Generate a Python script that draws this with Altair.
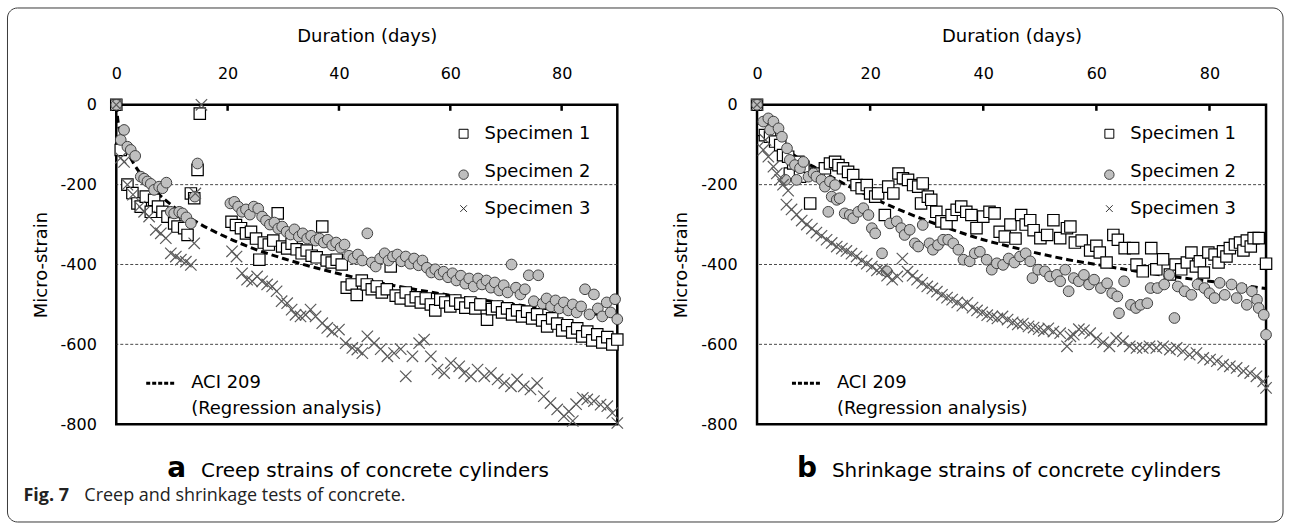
import altair as alt
import pandas as pd

# ---------------- axis / label arrays ----------------
X_LABELS = [0, 20, 40, 60, 80]
TOP_TICKS = [20, 40, 60, 80]
Y_LABELS = [0, -200, -400, -600, -800]
GRID_VALUES = [-200, -400, -600]
SERIES = ["Specimen 1", "Specimen 2", "Specimen 3"]
ACI_LABEL = ["ACI 209", "(Regression analysis)"]

# ---------------- panel a : creep ----------------
a_s1_day = [0, 0.8, 2.0, 2.9, 3.8, 4.4, 5.3, 6.2, 6.8, 7.5, 8.3, 9.2, 10.4, 11.0, 12.2, 12.8, 13.4, 14.0, 14.6, 15.0,
            20.7, 21.5, 22.4, 23.3, 24.2, 25.1, 25.7, 26.5, 27.4, 28.2, 29.0, 29.8, 30.7, 31.5, 32.4, 33.3, 34.2, 35.1,
            36.0, 37.0, 37.8, 38.7, 39.6, 40.5, 41.4, 42.3, 43.2, 44.1, 45.0, 45.9, 46.8, 47.7, 48.6, 49.3, 50.2, 51.1,
            52.0, 52.9, 53.8, 54.7, 55.6, 56.5, 57.3, 58.2, 59.1, 60.0, 60.9, 61.8, 62.7, 63.6, 64.5, 65.4, 66.6, 67.5,
            68.4, 69.3, 70.2, 71.1, 72.0, 72.9, 73.8, 74.7, 75.6, 76.5, 77.4, 78.3, 79.2, 80.1, 81.0, 81.9, 82.8, 83.7,
            84.6, 85.5, 86.4, 87.3, 88.2, 89.1, 90.0]
a_s1_val = [0, -113, -200, -221, -247, -255, -230, -268, -238, -255, -268, -280, -297, -305, -309, -326, -222, -234, -163, -22,
            -293, -301, -309, -322, -318, -335, -388, -345, -350, -340, -272, -355, -360, -348, -362, -372, -365, -378,
            -382, -305, -390, -395, -388, -400, -458, -450, -476, -440, -450, -462, -455, -470, -462, -405, -478, -485,
            -470, -490, -482, -495, -485, -500, -515, -488, -495, -505, -490, -498, -508, -495, -510, -500, -538, -512,
            -505, -520, -510, -525, -515, -530, -518, -535, -525, -540, -555, -535, -548, -565, -552, -570, -560, -580,
            -568, -590, -575, -595, -582, -600, -588]

a_s2_day = [0, 0.8, 1.4, 2.0, 2.6, 3.4, 4.4, 5.0, 5.6, 6.2, 6.8, 7.7, 8.3, 9.0, 9.8, 10.4, 11.3, 11.9, 12.6, 13.4, 14.1, 14.6,
            20.5, 21.2, 21.9, 22.6, 23.3, 24.0, 24.7, 25.5, 26.2, 26.9, 27.6, 28.4, 29.1, 29.8, 30.6, 31.3, 32.0, 32.8,
            33.5, 34.3, 35.0, 35.8, 36.5, 37.3, 38.0, 38.8, 39.5, 40.3, 41.0, 41.8, 42.6, 43.4, 44.2, 45.1, 45.9, 46.6,
            47.4, 48.2, 48.9, 49.7, 50.5, 51.2, 52.0, 52.8, 53.5, 54.3, 55.0, 55.8, 56.6, 57.3, 58.1, 58.8, 59.6, 60.4,
            61.1, 61.9, 62.7, 63.4, 64.2, 65.0, 65.7, 66.5, 67.3, 68.0, 68.8, 69.6, 70.3, 71.0, 71.8, 72.6, 73.4, 74.1,
            75.0, 75.8, 76.6, 77.3, 78.1, 78.9, 79.6, 80.4, 81.2, 82.0, 82.7, 83.5, 84.2, 85.0, 85.8, 86.5, 87.3, 88.1,
            88.8, 89.6, 90.0]
a_s2_val = [0, -88, -63, -105, -113, -128, -180, -185, -192, -198, -213, -205, -209, -195, -268, -272, -268, -272, -282, -297, -230, -147,
            -247, -243, -255, -268, -262, -275, -255, -260, -280, -290, -300, -295, -310, -305, -318, -325, -312, -330,
            -322, -335, -328, -340, -335, -345, -338, -352, -345, -358, -350, -378, -385, -375, -390, -322, -395, -405,
            -385, -372, -390, -380, -375, -392, -380, -398, -385, -402, -390, -408, -420, -412, -425, -418, -432, -422,
            -440, -428, -448, -435, -455, -435, -450, -440, -458, -445, -465, -452, -470, -400, -458, -475, -462, -427,
            -492, -427, -498, -485, -505, -490, -510, -495, -515, -500, -520, -505, -462, -525, -475, -510, -530, -495,
            -520, -487, -537]

a_s3_day = [0, 0.8, 1.4, 2.0, 3.0, 4.2, 5.0, 5.9, 7.1, 8.0, 8.9, 9.8, 10.7, 11.6, 12.5, 13.4, 14.0, 14.2, 15.3,
            20.8, 21.6, 22.6, 23.5, 24.4, 25.3, 26.2, 27.1, 28.0, 28.8, 29.7, 30.7, 31.5, 32.2, 33.1, 34.0, 34.9, 35.8,
            37.0, 37.9, 38.8, 40.0, 41.2, 42.4, 43.3, 44.2, 45.1, 46.3, 47.5, 48.7, 49.9, 51.1, 52.0, 53.2, 54.4, 55.3,
            56.5, 57.7, 58.9, 60.1, 61.6, 62.5, 63.7, 64.9, 66.1, 67.3, 68.5, 69.7, 70.9, 72.0, 73.2, 74.4, 75.6, 76.8,
            78.0, 79.2, 80.4, 81.3, 82.0, 82.6, 83.8, 84.6, 85.8, 87.0, 88.2, 89.1, 90.0]
a_s3_val = [0, -133, -143, -200, -225, -255, -268, -280, -313, -322, -334, -372, -380, -388, -393, -401, -347, -222, 0,
            -367, -380, -422, -438, -442, -430, -442, -450, -455, -467, -492, -497, -513, -526, -530, -526, -513, -530,
            -547, -559, -568, -563, -597, -609, -613, -622, -580, -597, -612, -630, -622, -612, -680, -630, -597, -588,
            -630, -663, -672, -647, -655, -672, -680, -663, -680, -672, -688, -697, -705, -688, -705, -713, -697, -730,
            -747, -763, -780, -768, -792, -750, -734, -738, -742, -751, -755, -772, -797]

a_aci_day = [0, 0.3, 1, 2, 3, 5, 7, 10, 14, 20, 25, 30, 40, 50, 60, 70, 80, 90]
a_aci_val = [0, -40, -80, -117, -144, -184, -215, -252, -290, -333, -362, -385, -423, -453, -477, -497, -515, -530]

# ---------------- panel b : shrinkage ----------------
b_s1_day = [0, 1.1, 1.4, 2.3, 3.2, 4.1, 4.6, 5.5, 5.8, 6.4, 7.3, 7.6, 8.2, 9.4, 10.5, 12.0, 12.9, 13.8, 14.4, 15.2,
            16.1, 17.0, 17.6, 18.5, 19.4, 20.0, 20.9, 21.4, 22.6, 23.2, 24.1, 25.0, 25.8, 26.7, 27.6, 28.5, 29.0, 29.3,
            30.2, 30.8, 31.7, 32.6, 33.5, 34.4, 35.3, 36.1, 37.0, 37.9, 38.8, 40.0, 41.1, 42.0, 42.9, 43.8, 44.8, 45.7,
            46.7, 47.5, 48.3, 48.9, 50.1, 51.3, 52.4, 53.6, 54.8, 55.4, 56.2, 57.4, 58.9, 60.0, 60.6, 61.8, 63.0, 63.8,
            65.0, 66.5, 67.1, 68.2, 69.7, 70.6, 71.8, 73.0, 74.0, 75.0, 76.0, 76.8, 77.6, 78.3, 79.0, 79.8, 80.9, 81.6,
            82.4, 83.0, 83.6, 84.5, 85.4, 86.0, 86.6, 87.3, 87.8, 88.7, 90.0]
b_s1_val = [0, -63, -76, -80, -92, -101, -126, -130, -172, -147, -143, -180, -155, -247, -172, -159, -147, -143, -151, -159,
            -168, -176, -201, -209, -201, -222, -230, -222, -276, -205, -222, -172, -184, -188, -201, -205, -247, -197,
            -230, -238, -268, -292, -297, -276, -263, -255, -268, -276, -309, -280, -268, -272, -318, -330, -300, -335,
            -276, -300, -289, -314, -334, -326, -289, -334, -309, -305, -345, -340, -365, -353, -370, -395, -326, -338,
            -359, -359, -400, -417, -359, -412, -387, -425, -400, -412, -395, -370, -405, -392, -420, -370, -375, -395,
            -367, -380, -359, -350, -345, -365, -340, -355, -334, -334, -398]

b_s2_day = [0, 1.1, 2.0, 2.3, 2.9, 3.8, 4.4, 5.0, 5.3, 5.8, 6.7, 7.0, 7.6, 8.2, 9.1, 10.0, 10.5, 11.4, 12.0, 12.6,
            12.9, 13.2, 13.8, 14.1, 14.6, 15.5, 16.4, 17.0, 17.9, 18.8, 19.7, 20.3, 20.9, 22.1, 22.9, 23.5, 24.7, 25.5,
            26.1, 27.0, 27.9, 28.5, 29.3, 30.5, 31.1, 32.0, 32.9, 33.8, 34.7, 35.6, 36.5, 37.6, 38.5, 39.4, 40.6, 41.5,
            42.4, 43.5, 44.5, 45.5, 46.5, 47.5, 48.3, 48.7, 49.7, 50.9, 51.8, 53.0, 53.6, 54.5, 55.1, 56.0, 56.9, 57.8,
            58.7, 59.6, 60.8, 61.9, 62.8, 63.7, 64.0, 64.9, 66.1, 67.0, 67.8, 69.0, 69.6, 70.8, 72.0, 72.9, 73.8, 74.4,
            75.6, 76.8, 77.9, 79.1, 80.0, 80.9, 81.8, 82.7, 83.9, 84.8, 85.7, 86.6, 87.5, 88.4, 88.7, 89.6, 90.0]
b_s2_val = [0, -42, -34, -63, -42, -59, -80, -188, -109, -138, -151, -188, -159, -143, -180, -172, -180, -188, -205, -268,
            -192, -230, -201, -238, -234, -272, -276, -284, -268, -259, -276, -309, -322, -372, -417, -297, -292, -309,
            -326, -313, -347, -355, -301, -347, -363, -351, -338, -338, -347, -363, -388, -392, -372, -368, -388, -413,
            -397, -401, -385, -395, -380, -372, -392, -434, -413, -417, -430, -426, -442, -413, -467, -434, -442, -426,
            -450, -438, -459, -447, -472, -480, -522, -442, -501, -509, -501, -497, -459, -459, -450, -426, -534, -455,
            -467, -476, -450, -459, -472, -484, -446, -476, -450, -484, -459, -501, -467, -488, -509, -526, -576]

b_s3_day = [0, 1.1, 1.5, 2.0, 2.9, 3.5, 4.1, 4.6, 5.2, 5.5, 6.1, 7.0, 7.9, 8.8, 9.7, 10.5, 11.4, 12.3, 13.2, 14.1,
            15.0, 15.8, 16.7, 17.6, 18.5, 19.4, 20.3, 21.2, 22.1, 23.0, 23.9, 24.8, 25.7, 26.6, 27.5, 28.3, 29.2, 30.1,
            31.0, 31.8, 32.7, 33.6, 34.5, 35.4, 36.3, 37.2, 38.1, 38.9, 39.8, 40.7, 41.6, 42.5, 43.4, 44.3, 45.2, 46.1,
            47.0, 48.0, 48.9, 49.8, 50.7, 51.5, 52.4, 53.6, 54.8, 55.4, 56.0, 56.9, 57.8, 58.9, 60.0, 61.2, 62.3, 63.5,
            64.7, 65.9, 67.1, 68.2, 69.4, 70.6, 71.8, 73.0, 74.2, 75.3, 76.5, 77.7, 78.9, 80.1, 81.3, 82.4, 83.6, 84.8,
            86.0, 87.2, 88.3, 89.5, 90.0]
b_s3_val = [0, -113, -88, -130, -155, -172, -188, -200, -250, -215, -262, -275, -290, -300, -310, -320, -328, -338, -346, -355,
            -360, -366, -373, -380, -390, -398, -405, -415, -412, -428, -438, -430, -385, -418, -428, -438, -446, -455,
            -460, -468, -476, -483, -488, -495, -503, -496, -508, -515, -520, -527, -530, -535, -530, -538, -545, -550,
            -548, -555, -558, -562, -566, -560, -568, -572, -605, -580, -576, -562, -565, -572, -585, -595, -605, -584,
            -592, -605, -609, -609, -605, -609, -605, -613, -609, -617, -626, -622, -634, -638, -642, -651, -655, -659,
            -667, -672, -680, -693, -709]

b_aci_day = [1.5, 3, 5, 8, 10, 15, 20, 25, 30, 35, 40, 45, 50, 55, 60, 65, 70, 75, 80, 85, 90]
b_aci_val = [-70, -88, -110, -140, -155, -195, -230, -262, -290, -315, -338, -356, -373, -388, -400, -412, -423, -433, -442, -451, -460]

# ---------------- styling ----------------
FONT = "DejaVu Sans"
XPATH = "M-1,-1L1,1M-1,1L1,-1"
PLOT_H = 320


def frame(days, vals):
    return pd.DataFrame({"day": days, "strain": vals})


def text_layer(text, x, y, size=18, weight="normal", font=FONT, baseline="middle", color="black"):
    return alt.Chart(pd.DataFrame({"t": [text]})).mark_text(
        align="left", baseline=baseline, fontSize=size, fontWeight=weight, font=font, color=color
    ).encode(text="t:N", x=alt.value(x), y=alt.value(y))


def make_panel(width, s1, s2, s3, aci, letter, caption, leg_sym_x, leg_txt_x, aci_x, letter_x, cap_x, extra=None):
    xs = alt.Scale(domain=[0, 90], nice=False, zero=False)
    ys = alt.Scale(domain=[-800, 0], nice=False)
    xax = alt.Axis(orient="top", values=X_LABELS, title="Duration (days)", ticks=False, tickSize=0,
                   domain=False, grid=False, labelFontSize=16, labelPadding=23, labelFlush=False,
                   titleFontSize=18, titlePadding=20, labelFont=FONT, titleFont=FONT,
                   titleFontWeight="normal", labelColor="black", titleColor="black")
    yax = alt.Axis(values=Y_LABELS, title="Micro-strain", ticks=False, tickSize=0, domain=False, grid=False,
                   labelFontSize=16, labelPadding=20, labelFlush=False, labelExpr="'' + datum.value",
                   titleFontSize=18, titlePadding=10, labelFont=FONT, titleFont=FONT,
                   titleFontWeight="normal", labelColor="black", titleColor="black")
    X = alt.X("day:Q", scale=xs, axis=xax)
    Y = alt.Y("strain:Q", scale=ys, axis=yax)

    grid = alt.Chart(pd.DataFrame({"strain": GRID_VALUES})).mark_rule(
        strokeDash=[3, 2], color="#333333", strokeWidth=0.9
    ).encode(y=Y)
    ticks = alt.Chart(pd.DataFrame({"day": TOP_TICKS})).mark_rule(color="black", strokeWidth=2.5).encode(
        x=X, y=alt.value(0), y2=alt.value(6)
    )
    line = alt.Chart(frame(*aci)).mark_line(
        color="black", strokeWidth=3, strokeDash=[7, 4], interpolate="monotone"
    ).encode(x=X, y=Y)
    sq = alt.Chart(frame(*s1)).mark_point(
        shape="square", filled=True, fill="white", stroke="black", strokeWidth=1.2, size=130, opacity=1
    ).encode(x=X, y=Y)
    ci = alt.Chart(frame(*s2)).mark_point(
        shape="circle", filled=True, fill="#BFBFBF", stroke="#404040", strokeWidth=1, size=115, opacity=1
    ).encode(x=X, y=Y)
    cr = alt.Chart(frame(*s3)).mark_point(
        shape=XPATH, filled=False, stroke="#5A5A5A", strokeWidth=1.2, size=130, opacity=1
    ).encode(x=X, y=Y)

    one = pd.DataFrame({"k": [0]})
    rows = [29, 67, 104]
    leg = [
        alt.Chart(one).mark_point(shape="square", filled=True, fill="white", stroke="black", strokeWidth=1,
                                  size=80, opacity=1).encode(x=alt.value(leg_sym_x), y=alt.value(rows[0])),
        alt.Chart(one).mark_point(shape="circle", filled=True, fill="#BFBFBF", stroke="#404040", strokeWidth=1,
                                  size=90, opacity=1).encode(x=alt.value(leg_sym_x), y=alt.value(rows[1] + 3)),
        alt.Chart(one).mark_point(shape=XPATH, filled=False, stroke="#333333", strokeWidth=1,
                                  size=45, opacity=1).encode(x=alt.value(leg_sym_x), y=alt.value(rows[2])),
    ]
    for lab, ry in zip(SERIES, rows):
        leg.append(text_layer(lab, leg_txt_x, ry))
    leg.append(alt.Chart(one).mark_rule(color="black", strokeWidth=3, strokeDash=[4, 2]).encode(
        x=alt.value(aci_x), x2=alt.value(aci_x + 30), y=alt.value(279)))
    leg.append(text_layer(ACI_LABEL[0], aci_x + 45, 279))
    leg.append(text_layer(ACI_LABEL[1], aci_x + 45, 305))

    cap = [
        text_layer(letter, letter_x, 373, size=28, weight="bold", baseline="alphabetic"),
        text_layer(caption, cap_x, 373, size=20, baseline="alphabetic"),
    ]
    layers = [grid, line, sq, ci, cr, ticks] + leg + cap + (extra or [])
    return alt.layer(*layers).properties(width=width, height=PLOT_H)


one = pd.DataFrame({"k": [0]})
fig_extra = [
    text_layer("Fig. 7", -93, 397, size=18, weight="bold", font="Open Sans", baseline="alphabetic", color="#222222"),
    text_layer("Creep and shrinkage tests of concrete.", -32, 397, size=18, font="Open Sans",
               baseline="alphabetic", color="#222222"),
    alt.Chart(one).mark_rect(fillOpacity=0, stroke="#3a3a3a", strokeWidth=1, cornerRadius=10).encode(
        x=alt.value(-109), x2=alt.value(1169), y=alt.value(-97), y2=alt.value(418)),
]

panel_a = make_panel(502, (a_s1_day, a_s1_val), (a_s2_day, a_s2_val), (a_s3_day, a_s3_val),
                     (a_aci_day, a_aci_val), "a", "Creep strains of concrete cylinders",
                     348, 369, 30, 51, 85, fig_extra)
panel_b = make_panel(510, (b_s1_day, b_s1_val), (b_s2_day, b_s2_val), (b_s3_day, b_s3_val),
                     (b_aci_day, b_aci_val), "b", "Shrinkage strains of concrete cylinders",
                     353, 374, 35, 40, 75)

chart = alt.hconcat(panel_a, panel_b, spacing=140, bounds="flush").properties(
    padding={"left": 5.5, "top": 5.5, "right": 5, "bottom": 2}
).configure(
    font=FONT, view=alt.ViewConfig(stroke="black", strokeWidth=2.5)
)

chart.save("out.html", embed_options={"renderer": "svg", "actions": False})
